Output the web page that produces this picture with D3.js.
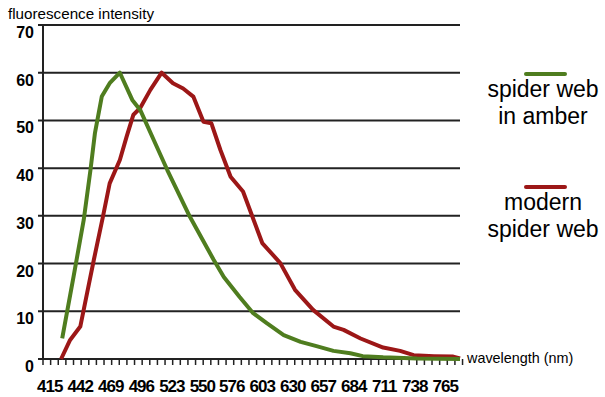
<!DOCTYPE html>
<html>
<head>
<meta charset="utf-8">
<script src="https://cdn.jsdelivr.net/npm/d3@7"></script>
<style>
  body { margin: 0; background: #fff; }
  text { font-family: Arial, "Liberation Sans", sans-serif; }
</style>
</head>
<body>
<div id="main"></div>
<script>
// wavelength (nm) / intensity
var amberWave = [426, 436, 445, 451, 455, 461, 468, 477, 488, 495, 507, 519, 539, 560, 569, 583, 595, 607, 622, 637, 651, 666, 681, 692, 710, 740, 778];
var amberVals = [4.3, 17.2, 29.1, 39.6, 47.4, 55, 57.8, 60, 54.3, 52.2, 45.9, 39.6, 29.8, 20.8, 17.2, 13, 9.6, 7.5, 5.0, 3.6, 2.7, 1.7, 1.2, 0.6, 0.35, 0.1, 0];

var modernWave = [425, 433, 442, 448, 454, 462, 468, 477, 483, 489, 495, 504, 514, 524, 533, 542, 551, 558, 566, 575, 586, 603, 619, 632, 648, 666, 675, 690, 710, 725, 737, 755, 772, 778];
var modernVals = [0, 4, 6.8, 13.8, 20.8, 29.8, 36.8, 41.7, 46.6, 51.2, 52.6, 56.4, 60, 57.8, 56.7, 55, 49.7, 49.4, 43.8, 38.2, 35.1, 24.3, 20.1, 14.5, 10.3, 6.8, 6.1, 4.3, 2.4, 1.7, 0.8, 0.6, 0.5, 0.1];

var xTickLabels = [415, 442, 469, 496, 523, 550, 576, 603, 630, 657, 684, 711, 738, 765];
var yTicks = [0, 10, 20, 30, 40, 50, 60, 70];

var legendItems = [
    { name: ['spider web', 'in amber'], color: '#4f7d1f' },
    { name: ['modern', 'spider web'], color: '#9c1717' }
];

var svg = d3.select('#main').append('svg').attr('width', 605).attr('height', 397);

var x = d3.scaleLinear().domain([409, 778]).range([43, 460]);
var y = d3.scaleLinear().domain([0, 70]).range([359, 25]);

// gridlines
svg.append('g').selectAll('line')
    .data(yTicks)
    .enter()
    .append('line')
    .attr('x1', 38)
    .attr('x2', x(778))
    .attr('y1', d => y(d))
    .attr('y2', d => y(d))
    .attr('stroke', '#222')
    .attr('stroke-width', 2);

// y axis line
svg.append('line')
    .attr('x1', x(409)).attr('x2', x(409))
    .attr('y1', y(70)).attr('y2', y(0))
    .attr('stroke', '#222').attr('stroke-width', 2);

// y labels
svg.append('g').selectAll('text')
    .data(yTicks)
    .enter()
    .append('text')
    .attr('x', 34)
    .attr('y', d => y(d) + 13)
    .attr('text-anchor', 'end')
    .style('font-size', '16px')
    .style('font-weight', 'bold')
    .text(d => d);

// x minor ticks, 4 per label step
var minor = d3.range(0, 56).map(k => 409 + k * 27 / 4);
svg.append('g').selectAll('line')
    .data(minor)
    .enter()
    .append('line')
    .attr('x1', d => x(d))
    .attr('x2', d => x(d))
    .attr('y1', y(0))
    .attr('y2', y(0) + 6)
    .attr('stroke', '#222')
    .attr('stroke-width', 1.5);

svg.append('g').selectAll('text')
    .data(xTickLabels)
    .enter()
    .append('text')
    .attr('x', d => x(d))
    .attr('y', 392)
    .attr('text-anchor', 'middle')
    .style('font-size', '17px')
    .style('font-weight', 'bold')
    .style('letter-spacing', '-1px')
    .text(d => d);

// titles
svg.append('text')
    .attr('x', 8).attr('y', 19)
    .style('font-size', '15.2px')
    .text('fluorescence intensity');

svg.append('text')
    .attr('x', 467).attr('y', 363)
    .style('font-size', '14.4px')
    .text('wavelength (nm)');

// lines
var line = d3.line()
    .x(d => x(d[0]))
    .y(d => y(d[1]));

var series = [
    { wave: modernWave, vals: modernVals, color: legendItems[1].color },
    { wave: amberWave, vals: amberVals, color: legendItems[0].color }
];

svg.append('g').selectAll('path')
    .data(series)
    .enter()
    .append('path')
    .attr('d', s => line(d3.zip(s.wave, s.vals)))
    .attr('fill', 'none')
    .attr('stroke', s => s.color)
    .attr('stroke-width', 4)
    .attr('stroke-linejoin', 'round');

// legend
var leg = svg.append('g').selectAll('g')
    .data(legendItems)
    .enter()
    .append('g')
    .attr('transform', (d, i) => 'translate(0,' + (i * 113) + ')');

leg.append('line')
    .attr('x1', 526).attr('x2', 565)
    .attr('y1', 74).attr('y2', 74)
    .attr('stroke', d => d.color)
    .attr('stroke-width', 4)
    .attr('stroke-linecap', 'round');

leg.each(function(d) {
    var g = d3.select(this);
    d.name.forEach((t, j) => {
        g.append('text')
            .attr('x', 543)
            .attr('y', 97 + j * 27)
            .attr('text-anchor', 'middle')
            .style('font-size', '23px')
            .text(t);
    });
});
</script>
</body>
</html>
